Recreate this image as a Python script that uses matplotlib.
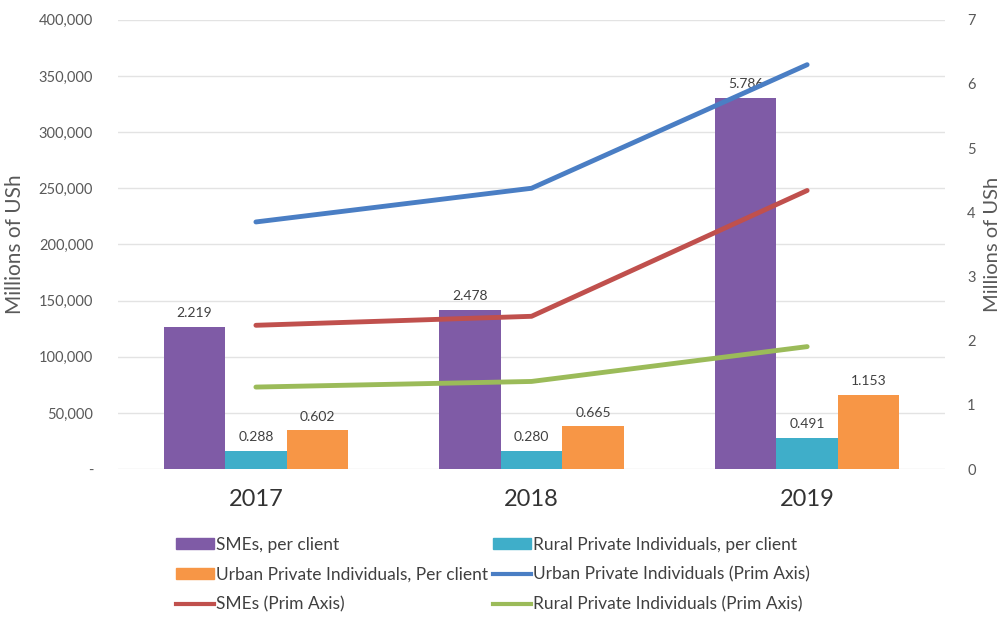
import numpy as np
import matplotlib.pyplot as plt
from matplotlib.patches import Patch
from matplotlib.lines import Line2D

plt.rcParams['font.family'] = ['Lato', 'DejaVu Sans']

# Data
years = ['2017', '2018', '2019']
smes_per_client = [2.219, 2.478, 5.786]
rural_per_client = [0.288, 0.280, 0.491]
urban_per_client = [0.602, 0.665, 1.153]
urban_total = [220000, 250000, 360000]
smes_total = [128000, 136000, 248000]
rural_total = [73000, 78000, 109000]

c_purple = '#7F5BA6'
c_cyan = '#3FAEC9'
c_orange = '#F79646'
c_blue = '#4A7EC4'
c_red = '#C0504D'
c_green = '#9BBB59'
grey = '#595959'

fig = plt.figure(figsize=(10.01, 6.18), dpi=100)
pos = [0.118, 0.241, 0.826, 0.727]
ax = fig.add_axes(pos)
ax2 = ax.twinx()

x = np.arange(len(years))
w = 0.223

# Bars go on the secondary axis (per client)
b1 = ax2.bar(x - w, smes_per_client, w, color=c_purple, zorder=2)
b2 = ax2.bar(x, rural_per_client, w, color=c_cyan, zorder=2)
b3 = ax2.bar(x + w, urban_per_client, w, color=c_orange, zorder=2)
for bars, vals in [(b1, smes_per_client), (b2, rural_per_client), (b3, urban_per_client)]:
    for r, v in zip(bars, vals):
        ax2.text(r.get_x() + r.get_width() / 2, v + 0.12, f'{v:.3f}',
                 ha='center', va='bottom', fontsize=10, color='#404040')

# Lines on primary scale, in an overlay so they sit above the bars
ax3 = fig.add_axes(pos, sharex=ax, facecolor='none', zorder=5)
ax3.set_ylim(0, 400000)
ax3.axis('off')
ax3.plot(x, urban_total, color=c_blue, lw=3.5, solid_capstyle='round')
ax3.plot(x, smes_total, color=c_red, lw=3.5, solid_capstyle='round')
ax3.plot(x, rural_total, color=c_green, lw=3.5, solid_capstyle='round')

ax.set_xlim(-0.5, 2.5)
ax.set_ylim(0, 400000)
ax.set_yticks(np.arange(0, 400001, 50000))
ax.set_yticklabels(['-'] + [f'{v:,}' for v in range(50000, 400001, 50000)])
ax.yaxis.grid(True, color='#E3E3E3', lw=1)
ax.set_axisbelow(True)
ax2.set_ylim(0, 7)
ax2.set_yticks(range(0, 8))

ax.set_xticks(x)
ax.set_xticklabels(years, fontsize=17, color='#333333')
ax.tick_params(axis='x', length=0, pad=14)
ax.tick_params(axis='y', length=0, labelsize=10.5, labelcolor=grey, pad=18)
ax2.tick_params(axis='y', length=0, labelsize=10.5, labelcolor=grey, pad=16)

ax.set_ylabel('Millions of USh', fontsize=15, color=grey, labelpad=10)
ax2.set_ylabel('Millions of USh', fontsize=14.5, color=grey, labelpad=6)

for a in (ax, ax2):
    for s in a.spines.values():
        s.set_visible(False)

handles = [
    Patch(color=c_purple), Patch(color=c_orange), Line2D([], [], color=c_red, lw=3),
    Patch(color=c_cyan), Line2D([], [], color=c_blue, lw=3), Line2D([], [], color=c_green, lw=3),
]
labels = [
    'SMEs, per client', 'Urban Private Individuals, Per client', 'SMEs (Prim Axis)',
    'Rural Private Individuals, per client', 'Urban Private Individuals (Prim Axis)',
    'Rural Private Individuals (Prim Axis)',
]
fig.legend(handles, labels, ncol=2, loc='upper left', bbox_to_anchor=(0.160, 0.157),
           frameon=False, fontsize=12.5, handlelength=2.2, handleheight=0.6,
           handletextpad=0.1, columnspacing=0.3, labelspacing=0.8,
           labelcolor='#404040')

fig.savefig('out.png', dpi=100)
